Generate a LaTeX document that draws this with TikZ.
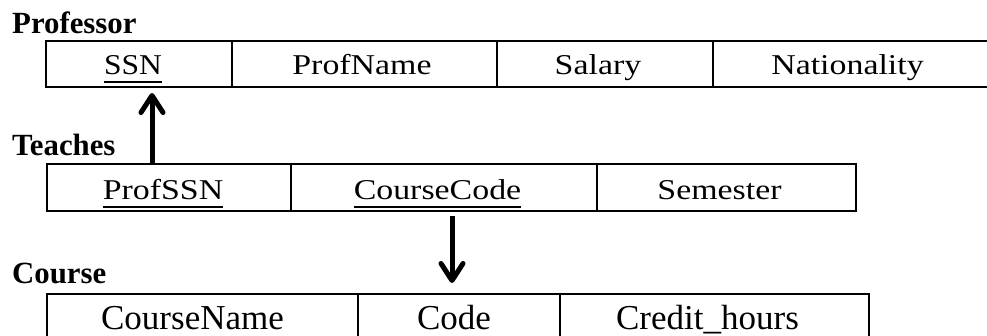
\documentclass[tikz,border=0pt]{standalone}
\usepackage{fontspec}
\setmainfont{Liberation Serif}
\newfontfamily\wideserif[FakeStretch=1.18]{Liberation Serif}
\newfontfamily\keyserif[FakeStretch=1.1]{Liberation Serif}
\usetikzlibrary{arrows.meta}

\begin{document}
\begin{tikzpicture}[x=1pt,y=-1pt,
  cell/.style={draw, line width=1.3pt, inner sep=0pt, outer sep=0pt, anchor=north west},
  title/.style={anchor=base west, inner sep=0pt, font=\fontsize{30.8}{32}\selectfont\bfseries},
  attr/.style={anchor=base, inner sep=0pt, font=\fontsize{28.7}{30}\selectfont\wideserif},
  keyattr/.style={anchor=base, inner sep=0pt, font=\fontsize{28.7}{30}\selectfont\keyserif},
  bigattr/.style={anchor=base, inner sep=0pt, font=\fontsize{35}{36}\selectfont},
  keyline/.style={line width=1.3pt},
  fk/.style={line width=5pt, line cap=butt, -{Straight Barb[length=17pt,width=22pt,line join=round,line cap=round]}}
]
\useasboundingbox (0,0) rectangle (987,335);
\clip (0,0) rectangle (987,335);

% ---------- Professor ----------
\node[title] (tprof) at (12,33) {Professor};
\node[cell, minimum width=186pt, minimum height=46pt] (p1) at (46,41) {};
\node[cell, minimum width=265pt, minimum height=46pt] (p2) at (232,41) {};
\node[cell, minimum width=216pt, minimum height=46pt] (p3) at (497,41) {};
\node[cell, minimum width=290pt, minimum height=46pt] (p4) at (713,41) {};
\node[keyattr] (ssn) at (133,74) {SSN};
\node[attr] (pname) at (362,74) {ProfName};
\node[attr] (sal) at (598,74) {Salary};
\node[attr] (nat) at (847.5,74) {Nationality};
\draw[keyline] ([yshift=-8pt]ssn.base west) -- ([yshift=-8pt]ssn.base east);

% ---------- Teaches ----------
\node[title] (tteach) at (12,155) {Teaches};
\node[cell, minimum width=244pt, minimum height=47pt] (t1) at (47,164) {};
\node[cell, minimum width=306pt, minimum height=47pt] (t2) at (291,164) {};
\node[cell, minimum width=259pt, minimum height=47pt] (t3) at (597,164) {};
\node[attr] (pssn) at (163,199) {ProfSSN};
\node[attr] (ccode) at (437.5,199) {CourseCode};
\node[attr] (sem) at (719.5,199) {Semester};
\draw[keyline] ([yshift=-8pt]pssn.base west) -- ([yshift=-8pt]pssn.base east);
\draw[keyline] ([yshift=-8pt]ccode.base west) -- ([yshift=-8pt]ccode.base east);

% ---------- Course ----------
\node[title] (tcourse) at (12,283) {Course};
\node[cell, minimum width=311pt, minimum height=60pt] (c1) at (47,294) {};
\node[cell, minimum width=202pt, minimum height=60pt] (c2) at (358,294) {};
\node[cell, minimum width=309pt, minimum height=60pt] (c3) at (560,294) {};
\node[bigattr] (cname) at (192.5,329) {CourseName};
\node[bigattr] (code) at (454,329) {Code};
\node[bigattr] (chours) at (707.5,329) {Credit\_hours};

% ---------- foreign keys ----------
\coordinate (fk1s) at (152,163);
\coordinate (fk1e) at (152,93);
\coordinate (fk2s) at (452,216);
\coordinate (fk2e) at (452,283);
\draw[fk] (fk1s) -- (fk1e);
\draw[fk] (fk2s) -- (fk2e);
\end{tikzpicture}
\end{document}
